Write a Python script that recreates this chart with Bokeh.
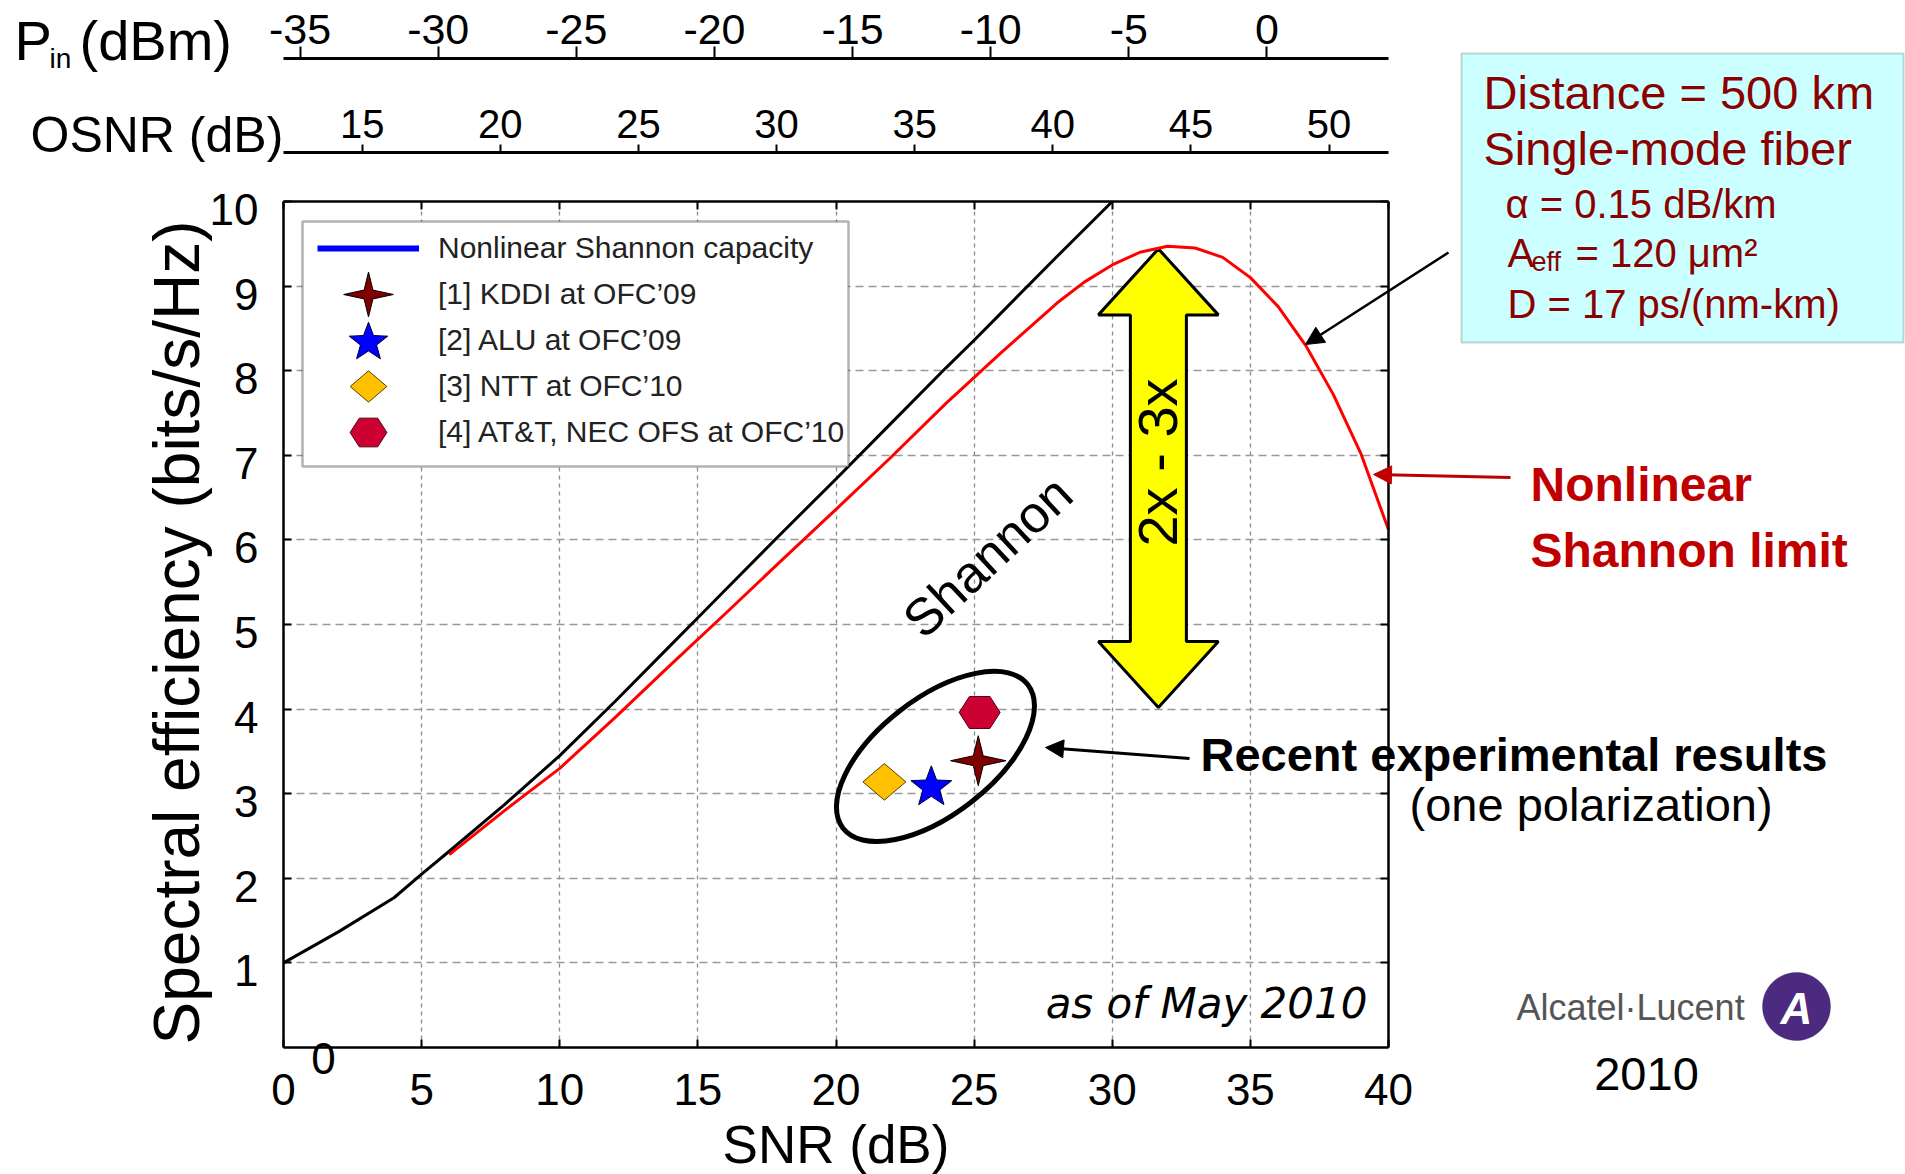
import math
import numpy as np
from bokeh.plotting import figure
from bokeh.models import (Range1d, LinearAxis, FixedTicker, Legend, LegendItem, Label,
                          BoxAnnotation, Arrow, NormalHead, CustomJS, PolyAnnotation)
from bokeh.core.properties import value
from bokeh.embed import file_html
from bokeh.resources import INLINE

# ---------------- data ----------------
snr_shannon = [0, 2, 4, 5, 6, 8, 10, 12, 14, 15, 16, 18, 20, 22, 24, 25, 26, 28, 30]
se_shannon = [1.0, 1.37, 1.77, 2.05, 2.32, 2.87, 3.45, 4.09, 4.75, 5.08, 5.41, 6.07,
              6.72, 7.38, 8.04, 8.36, 8.69, 9.35, 10.0]

snr_nonlinear = [6, 8, 10, 12, 14, 16, 18, 20, 22, 24, 26, 28, 29, 30, 31, 32, 33, 34,
                 35, 36, 37, 38, 39, 40]
se_nonlinear = [2.28, 2.8, 3.3, 3.9, 4.52, 5.13, 5.75, 6.36, 6.98, 7.62, 8.22, 8.8,
                9.05, 9.25, 9.4, 9.47, 9.45, 9.34, 9.1, 8.76, 8.3, 7.72, 7.02, 6.12]

exp_labels = ["[1] KDDI at OFC\u201909", "[2] ALU at OFC\u201909",
              "[3] NTT at OFC\u201910", "[4] AT&T, NEC OFS at OFC\u201910"]
exp_snr = [25.15, 23.45, 21.75, 25.2]
exp_se = [3.39, 3.10, 3.14, 3.96]

x_ticks = [0, 5, 10, 15, 20, 25, 30, 35, 40]
y_ticks = [1, 2, 3, 4, 5, 6, 7, 8, 9, 10]
osnr_ticks = [15, 20, 25, 30, 35, 40, 45, 50]
pin_ticks = [-35, -30, -25, -20, -15, -10, -5, 0]
osnr_offset = 12.15   # OSNR (dB) = SNR + offset
pin_offset = -35.6    # Pin (dBm) = SNR + offset

# annotation anchors (data units)
ellipse_center = (23.6, 3.44)
gain_arrow_x = 31.67
gain_arrow_top = 9.44
gain_arrow_bottom = 4.02

# ---------------- layout ----------------
W, H = 1905, 1174
FL, FR, FT, FB = 283, 1388, 201, 1047       # plot box in page pixels
X0, X1, Y0, Y1 = 0, 40, 0, 10
XPX = (FR - FL) / (X1 - X0)
YPX = (FB - FT) / (Y1 - Y0)


def xd(px):
    return X0 + (px - FL) / XPX


def yd(py):
    return Y0 + (FB - py) / YPX


FONT = "Liberation Sans"

# the frame covers the whole page; axes are pinned with fixed_location
p = figure(width=W, height=H, x_range=Range1d(xd(0), xd(W)), y_range=Range1d(yd(H), yd(0)),
           output_backend="svg", toolbar_location=None,
           min_border_left=0, min_border_right=0, min_border_top=0, min_border_bottom=0)
p.background_fill_color = "white"
p.border_fill_color = "white"
p.outline_line_color = None

# grids
p.xgrid.ticker = FixedTicker(ticks=x_ticks[1:-1])
p.xgrid.bounds = (X0, X1)
p.xgrid.cross_bounds = (Y0, Y1)
p.xgrid.grid_line_color = "#8a8a8a"
p.xgrid.grid_line_dash = "4 4"
p.xgrid.grid_line_width = 1.3
p.ygrid.ticker = FixedTicker(ticks=y_ticks[:-1])
p.ygrid.bounds = (Y0, Y1)
p.ygrid.cross_bounds = (X0, X1)
p.ygrid.grid_line_color = "#999999"
p.ygrid.grid_line_dash = "8 5"
p.ygrid.grid_line_width = 1.6

# bottom axis
xa = p.xaxis[0]
xa.fixed_location = Y0
xa.bounds = (X0, X1)
xa.ticker = FixedTicker(ticks=x_ticks)
xa.axis_label = "SNR (dB)"
xa.axis_label_text_font = FONT
xa.axis_label_text_font_size = "53px"
xa.axis_label_text_font_style = "normal"
xa.axis_label_text_color = "black"
xa.axis_label_standoff = 7
xa.major_label_text_font = FONT
xa.major_label_text_font_size = "44px"
xa.major_label_text_color = "black"
xa.major_label_standoff = 26
xa.major_tick_in = 8
xa.major_tick_out = 0
xa.minor_tick_line_color = None
xa.axis_line_width = 2.5
xa.major_tick_line_width = 2

# left axis: line and ticks
ya = p.yaxis[0]
ya.fixed_location = X0
ya.bounds = (Y0, Y1)
ya.ticker = FixedTicker(ticks=y_ticks)
ya.major_label_text_color = None
ya.major_tick_in = 8
ya.major_tick_out = 0
ya.minor_tick_line_color = None
ya.axis_line_width = 2.5
ya.major_tick_line_width = 2

# left axis labels (drawn a little below their ticks, as in the picture)
ylab_shift = 8 / YPX
p.extra_y_ranges = {"ylab": Range1d(yd(H) + ylab_shift, yd(0) + ylab_shift)}
yl = LinearAxis(y_range_name="ylab", fixed_location=X0, bounds=(Y0, Y1),
                ticker=FixedTicker(ticks=y_ticks),
                axis_line_color=None, major_tick_line_color=None,
                minor_tick_line_color=None,
                major_label_text_font=FONT, major_label_text_font_size="44px",
                major_label_text_color="black", major_label_standoff=19,
                axis_label="Spectral efficiency (bits/s/Hz)",
                axis_label_text_font=FONT, axis_label_text_font_size="64px",
                axis_label_text_font_style="normal", axis_label_text_color="black",
                axis_label_standoff=-6)
p.add_layout(yl, "left")

# right mirror axis (ticks only)
ra = LinearAxis(fixed_location=X1, bounds=(Y0, Y1), ticker=FixedTicker(ticks=y_ticks),
                major_label_text_color=None,
                major_tick_in=8, major_tick_out=0, minor_tick_line_color=None,
                axis_line_width=2.5, major_tick_line_width=2)
p.add_layout(ra, "right")

# top mirror axis (ticks only)
ta = LinearAxis(fixed_location=Y1, bounds=(X0, X1), ticker=FixedTicker(ticks=x_ticks),
                major_label_text_color=None,
                major_tick_in=8, major_tick_out=0, minor_tick_line_color=None,
                axis_line_width=2.5, major_tick_line_width=2)
p.add_layout(ta, "above")

p.extra_x_ranges = {
    "osnr": Range1d(xd(0) + osnr_offset, xd(W) + osnr_offset),
    "pin": Range1d(xd(0) + pin_offset, xd(W) + pin_offset),
}

oa = LinearAxis(x_range_name="osnr", fixed_location=yd(152),
                bounds=(X0 + osnr_offset, X1 + osnr_offset),
                ticker=FixedTicker(ticks=osnr_ticks),
                major_label_text_font=FONT, major_label_text_font_size="40px",
                major_label_text_color="black", major_label_standoff=7,
                major_tick_out=8, major_tick_in=0, minor_tick_line_color=None,
                axis_line_width=3, major_tick_line_width=2)
p.add_layout(oa, "above")

pa = LinearAxis(x_range_name="pin", fixed_location=yd(58),
                bounds=(X0 + pin_offset, X1 + pin_offset),
                ticker=FixedTicker(ticks=pin_ticks),
                major_label_overrides={t: f"{t}" for t in pin_ticks},
                major_label_text_font=FONT, major_label_text_font_size="43px",
                major_label_text_color="black", major_label_standoff=3,
                major_tick_out=12, major_tick_in=0, minor_tick_line_color=None,
                axis_line_width=3, major_tick_line_width=2)
p.add_layout(pa, "above")

# ---------------- yellow double arrow ----------------
hw = 60 / XPX   # head half width
sw = 28 / XPX   # shaft half width
hl = 66 / YPX   # head length
xc, yt, yb = gain_arrow_x, gain_arrow_top, gain_arrow_bottom
arrow_xs = [xc, xc + hw, xc + sw, xc + sw, xc + hw, xc, xc - hw, xc - sw, xc - sw, xc - hw]
arrow_ys = [yt, yt - hl, yt - hl, yb + hl, yb + hl, yb, yb + hl, yb + hl, yt - hl, yt - hl]
p.patch(arrow_xs, arrow_ys, fill_color="#FFFF00", line_color="black", line_width=3)

# ---------------- curves ----------------
p.line(snr_shannon, se_shannon, line_color="black", line_width=3)
p.line(snr_nonlinear, se_nonlinear, line_color="#FF0000", line_width=3)
r_blue = p.line(snr_nonlinear, se_nonlinear, line_color="#0000FF", line_width=6,
                visible=False)

# ---------------- custom markers (u = marker size in px) ----------------
PAINT = """
  try { visuals.fill.apply(ctx, i); visuals.line.apply(ctx, i) }
  catch (e) { visuals.fill.set_vectorize(ctx, i); ctx.fill(); visuals.line.set_vectorize(ctx, i); ctx.stroke() }
"""
HEAD = """
export default (args, obj, data) => {
  const d = [data, obj, args].find((o) => o != null && o.ctx != null)
  if (d == null) return
  const {ctx, i, r, visuals} = d
  const u = 2*r
  ctx.beginPath()
"""
star4_js = CustomJS(code=HEAD + """
  const rx = 1.35*u, ry = 1.22*u, q = 0.24*u
  ctx.moveTo(0, -ry); ctx.lineTo(q, -q); ctx.lineTo(rx, 0); ctx.lineTo(q, q)
  ctx.lineTo(0, ry); ctx.lineTo(-q, q); ctx.lineTo(-rx, 0); ctx.lineTo(-q, -q)
  ctx.closePath()
""" + PAINT + "}\n")
star5_js = CustomJS(code=HEAD + """
  const Ro = 1.1*u, Ri = 0.42*Ro, dy = 0.095*Ro
  for (let k = 0; k < 10; k++) {
    const a = -Math.PI/2 + k*Math.PI/5
    const rr = (k % 2 == 0) ? Ro : Ri
    const x = rr*Math.cos(a), y = rr*Math.sin(a) + dy
    if (k == 0) ctx.moveTo(x, y); else ctx.lineTo(x, y)
  }
  ctx.closePath()
""" + PAINT + "}\n")
diamond_js = CustomJS(code=HEAD + """
  const rx = 1.0*u, ry = 0.85*u
  ctx.moveTo(0, -ry); ctx.lineTo(rx, 0); ctx.lineTo(0, ry); ctx.lineTo(-rx, 0)
  ctx.closePath()
""" + PAINT + "}\n")
hex_js = CustomJS(code=HEAD + """
  const rx = 1.0*u, ry = 0.78*u
  ctx.moveTo(-rx, 0); ctx.lineTo(-rx/2, -ry); ctx.lineTo(rx/2, -ry); ctx.lineTo(rx, 0)
  ctx.lineTo(rx/2, ry); ctx.lineTo(-rx/2, ry)
  ctx.closePath()
""" + PAINT + "}\n")

r_kddi = p.scatter(x=[exp_snr[0]], y=[exp_se[0]], marker=value("@star4"),
                   defs={"@star4": star4_js}, size=20.5,
                   fill_color="#800000", line_color="black", line_width=1)
r_alu = p.scatter(x=[exp_snr[1]], y=[exp_se[1]], marker=value("@star5"),
                  defs={"@star5": star5_js}, size=19.5,
                  fill_color="#0000FF", line_color="#000033", line_width=1)
r_ntt = p.scatter(x=[exp_snr[2]], y=[exp_se[2]], marker=value("@wdiamond"),
                  defs={"@wdiamond": diamond_js}, size=21.5,
                  fill_color="#FFC000", line_color="#554400", line_width=1)
r_att = p.scatter(x=[exp_snr[3]], y=[exp_se[3]], marker=value("@hexagon"),
                  defs={"@hexagon": hex_js}, size=20.5,
                  fill_color="#CC0033", line_color="#550011", line_width=1)

# ellipse round the experimental results
p.ellipse(x=[ellipse_center[0]], y=[ellipse_center[1]], width=234, height=116,
          width_units="screen", height_units="screen", angle=0.66,
          fill_color=None, line_color="black", line_width=5)

# ---------------- legend ----------------
p.add_layout(BoxAnnotation(left=xd(302), right=xd(848), top=yd(221), bottom=yd(466),
                           fill_color="white", fill_alpha=1.0,
                           line_color="black", line_width=2.5))
legend = Legend(items=[
    LegendItem(label="Nonlinear Shannon capacity", renderers=[r_blue]),
    LegendItem(label=exp_labels[0], renderers=[r_kddi]),
    LegendItem(label=exp_labels[1], renderers=[r_alu]),
    LegendItem(label=exp_labels[2], renderers=[r_ntt]),
    LegendItem(label=exp_labels[3], renderers=[r_att]),
], location=(317, H - 455), orientation="vertical",
    glyph_width=102, glyph_height=46, spacing=0, padding=0, margin=0,
    label_standoff=19, label_height=20,
    label_text_font=FONT, label_text_font_size="30px", label_text_color="#222222",
    border_line_color=None, background_fill_alpha=0.0)
p.add_layout(legend)


# ---------------- arrows ----------------
def add_arrow(x0, y0, x1, y1, color, width=2.5, head=18):
    p.add_layout(Arrow(end=NormalHead(size=head, fill_color=color, line_color=color),
                       x_start=xd(x0), y_start=yd(y0), x_end=xd(x1), y_end=yd(y1),
                       line_color=color, line_width=width))


add_arrow(1448, 252, 1305, 344, "black")
add_arrow(1510, 477, 1373, 474, "#C00000", width=3)
add_arrow(1189, 758, 1045, 747, "black", width=3)

# ---------------- info box ----------------
p.add_layout(BoxAnnotation(left=xd(1461), right=xd(1903), top=yd(53), bottom=yd(342),
                           fill_color="#CCFFFF", fill_alpha=1.0,
                           line_color="#4F6F6F", line_width=2))

BASELINE_FIX = 16   # the renderer puts alphabetic baselines this much lower


def add_label(text, px, py, size, font=FONT, color="black", style="normal",
              align="left", baseline="alphabetic", angle=0.0):
    if baseline == "alphabetic":
        py = py - BASELINE_FIX
    p.add_layout(Label(x=xd(px), y=yd(py), text=text, text_font=font,
                       text_font_size=f"{size}px", text_color=color,
                       text_font_style=style, text_align=align,
                       text_baseline=baseline, angle=angle))


DR = "#8B0000"
add_label("Distance = 500 km", 1483, 108, 47, color=DR)
add_label("Single-mode fiber", 1483, 164, 47, color=DR)
add_label("\u03b1 = 0.15 dB/km", 1505, 219, 40, color=DR)
add_label("A", 1507, 268, 40, color=DR)
add_label("eff", 1531, 277, 27, color=DR)
add_label("= 120 \u03bcm\u00b2", 1575, 268, 40, color=DR)
add_label("D = 17 ps/(nm-km)", 1507, 319, 40, color=DR)

# top axis titles
add_label("P", 14, 56, 56)
add_label("in", 49, 74, 28)
add_label("(dBm)", 79, 56, 56)
add_label("OSNR (dB)", 30, 150, 50)

# annotations
add_label("Nonlinear", 1530, 500, 48, color="#C00000", style="bold")
add_label("Shannon limit", 1530, 566, 48, color="#C00000", style="bold")
add_label("Recent experimental results", 1200, 770, 47, style="bold")
add_label("(one polarization)", 1409, 820, 47)
add_label("Shannon", 987, 556, 52, align="center", baseline="middle",
          angle=math.radians(43))
add_label("2x - 3x", 1157, 462, 56, align="center", baseline="middle",
          angle=math.pi / 2)
add_label("as of May 2010", 1367, 1019, 42, font="DejaVu Sans", style="italic",
          align="right")
add_label("0", 323, 1058, 44, align="center", baseline="middle")

# logo
t = np.linspace(0, 2 * np.pi, 60)
p.add_layout(PolyAnnotation(xs=[xd(1796 + 34 * math.cos(a)) for a in t],
                            ys=[yd(1006 + 34 * math.sin(a)) for a in t],
                            fill_color="#4B2A80", fill_alpha=1.0,
                            line_color="#2E1A55", line_width=1))
add_label("A", 1796, 1008, 44, color="white", style="bold italic", align="center",
          baseline="middle")
add_label("Alcatel\u00b7Lucent", 1516, 1007, 36, color="#555555", baseline="middle")
add_label("2010", 1646, 1073, 47, align="center", baseline="middle")

open("out.html", "w").write(file_html(p, INLINE))
